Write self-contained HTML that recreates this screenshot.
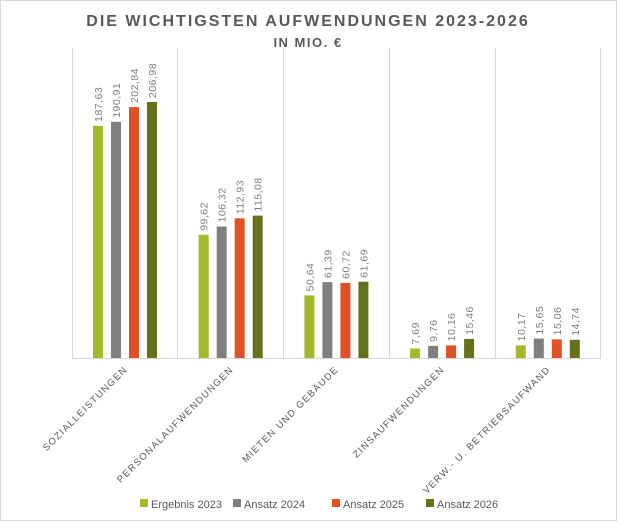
<!DOCTYPE html>
<html><head><meta charset="utf-8"><style>
body{margin:0;background:#fff;}
svg{display:block;font-family:"Liberation Sans",sans-serif;}
</style></head><body>
<svg width="617" height="521" viewBox="0 0 617 521">
<rect x="0.5" y="0.5" width="616" height="520" fill="#fff" stroke="#d9d9d9"/>
<text x="308" y="26" text-anchor="middle" font-size="16" font-weight="bold" fill="#595959" letter-spacing="2">DIE WICHTIGSTEN AUFWENDUNGEN 2023-2026</text>
<text x="308" y="47" text-anchor="middle" font-size="13" font-weight="bold" fill="#595959" letter-spacing="1.5">IN MIO. €</text>
<g stroke="#d9d9d9" stroke-width="1">
<line x1="72.5" y1="48" x2="72.5" y2="358"/>
<line x1="177.5" y1="48" x2="177.5" y2="358"/>
<line x1="283.5" y1="48" x2="283.5" y2="358"/>
<line x1="389.5" y1="48" x2="389.5" y2="358"/>
<line x1="495.5" y1="48" x2="495.5" y2="358"/>
<line x1="600.5" y1="48" x2="600.5" y2="358"/>
<line x1="72" y1="358.5" x2="601" y2="358.5"/>
</g>
<g>
<rect x="93" y="125.9" width="10" height="232.1" fill="#a5b72a"/>
<rect x="111" y="121.8" width="10" height="236.2" fill="#808080"/>
<rect x="129" y="107.1" width="10" height="250.9" fill="#e05226"/>
<rect x="147" y="102" width="10" height="256" fill="#667119"/>
<rect x="198.7" y="234.8" width="10" height="123.2" fill="#a5b72a"/>
<rect x="216.7" y="226.5" width="10" height="131.5" fill="#808080"/>
<rect x="234.7" y="218.3" width="10" height="139.7" fill="#e05226"/>
<rect x="252.7" y="215.6" width="10" height="142.4" fill="#667119"/>
<rect x="304.4" y="295.4" width="10" height="62.6" fill="#a5b72a"/>
<rect x="322.4" y="282.1" width="10" height="75.9" fill="#808080"/>
<rect x="340.4" y="282.9" width="10" height="75.1" fill="#e05226"/>
<rect x="358.4" y="281.7" width="10" height="76.3" fill="#667119"/>
<rect x="410.1" y="348.5" width="10" height="9.5" fill="#a5b72a"/>
<rect x="428.1" y="345.9" width="10" height="12.1" fill="#808080"/>
<rect x="446.1" y="345.4" width="10" height="12.6" fill="#e05226"/>
<rect x="464.1" y="338.9" width="10" height="19.1" fill="#667119"/>
<rect x="515.8" y="345.4" width="10" height="12.6" fill="#a5b72a"/>
<rect x="533.8" y="338.6" width="10" height="19.4" fill="#808080"/>
<rect x="551.8" y="339.4" width="10" height="18.6" fill="#e05226"/>
<rect x="569.8" y="339.8" width="10" height="18.2" fill="#667119"/>
</g>
<g font-size="10.5" fill="#7f7f7f" letter-spacing="0.5">
<text transform="translate(102,121.9) rotate(-90)">187,63</text>
<text transform="translate(120,117.8) rotate(-90)">190,91</text>
<text transform="translate(138,103.1) rotate(-90)">202,84</text>
<text transform="translate(156,98) rotate(-90)">206,98</text>
<text transform="translate(207.7,230.8) rotate(-90)">99,62</text>
<text transform="translate(225.7,222.5) rotate(-90)">106,32</text>
<text transform="translate(243.7,214.3) rotate(-90)">112,93</text>
<text transform="translate(261.7,211.6) rotate(-90)">115,08</text>
<text transform="translate(313.4,291.4) rotate(-90)">50,64</text>
<text transform="translate(331.4,278.1) rotate(-90)">61,39</text>
<text transform="translate(349.4,278.9) rotate(-90)">60,72</text>
<text transform="translate(367.4,277.7) rotate(-90)">61,69</text>
<text transform="translate(419.1,344.5) rotate(-90)">7,69</text>
<text transform="translate(437.1,341.9) rotate(-90)">9,76</text>
<text transform="translate(455.1,341.4) rotate(-90)">10,16</text>
<text transform="translate(473.1,334.9) rotate(-90)">15,46</text>
<text transform="translate(524.8,341.4) rotate(-90)">10,17</text>
<text transform="translate(542.8,334.6) rotate(-90)">15,65</text>
<text transform="translate(560.8,335.4) rotate(-90)">15,06</text>
<text transform="translate(578.8,335.8) rotate(-90)">14,74</text>
</g>
<g font-size="9.5" fill="#595959" letter-spacing="1.3" text-anchor="end">
<text transform="translate(128,370) rotate(-45)">SOZIALLEISTUNGEN</text>
<text transform="translate(234,370) rotate(-45)">PERSONALAUFWENDUNGEN</text>
<text transform="translate(339,370) rotate(-45)">MIETEN UND GEBÄUDE</text>
<text transform="translate(445,370) rotate(-45)">ZINSAUFWENDUNGEN</text>
<text transform="translate(551,370) rotate(-45)">VERW.- U. BETRIEBSAUFWAND</text>
</g>
<g font-size="11" fill="#595959">
<rect x="140" y="499" width="8" height="8" fill="#a5b72a"/><text x="151" y="508">Ergebnis 2023</text>
<rect x="233" y="499" width="8" height="8" fill="#808080"/><text x="244" y="508">Ansatz 2024</text>
<rect x="332" y="499" width="8" height="8" fill="#e05226"/><text x="343" y="508">Ansatz 2025</text>
<rect x="426" y="499" width="8" height="8" fill="#667119"/><text x="437" y="508">Ansatz 2026</text>
</g>
</svg>
</body></html>
